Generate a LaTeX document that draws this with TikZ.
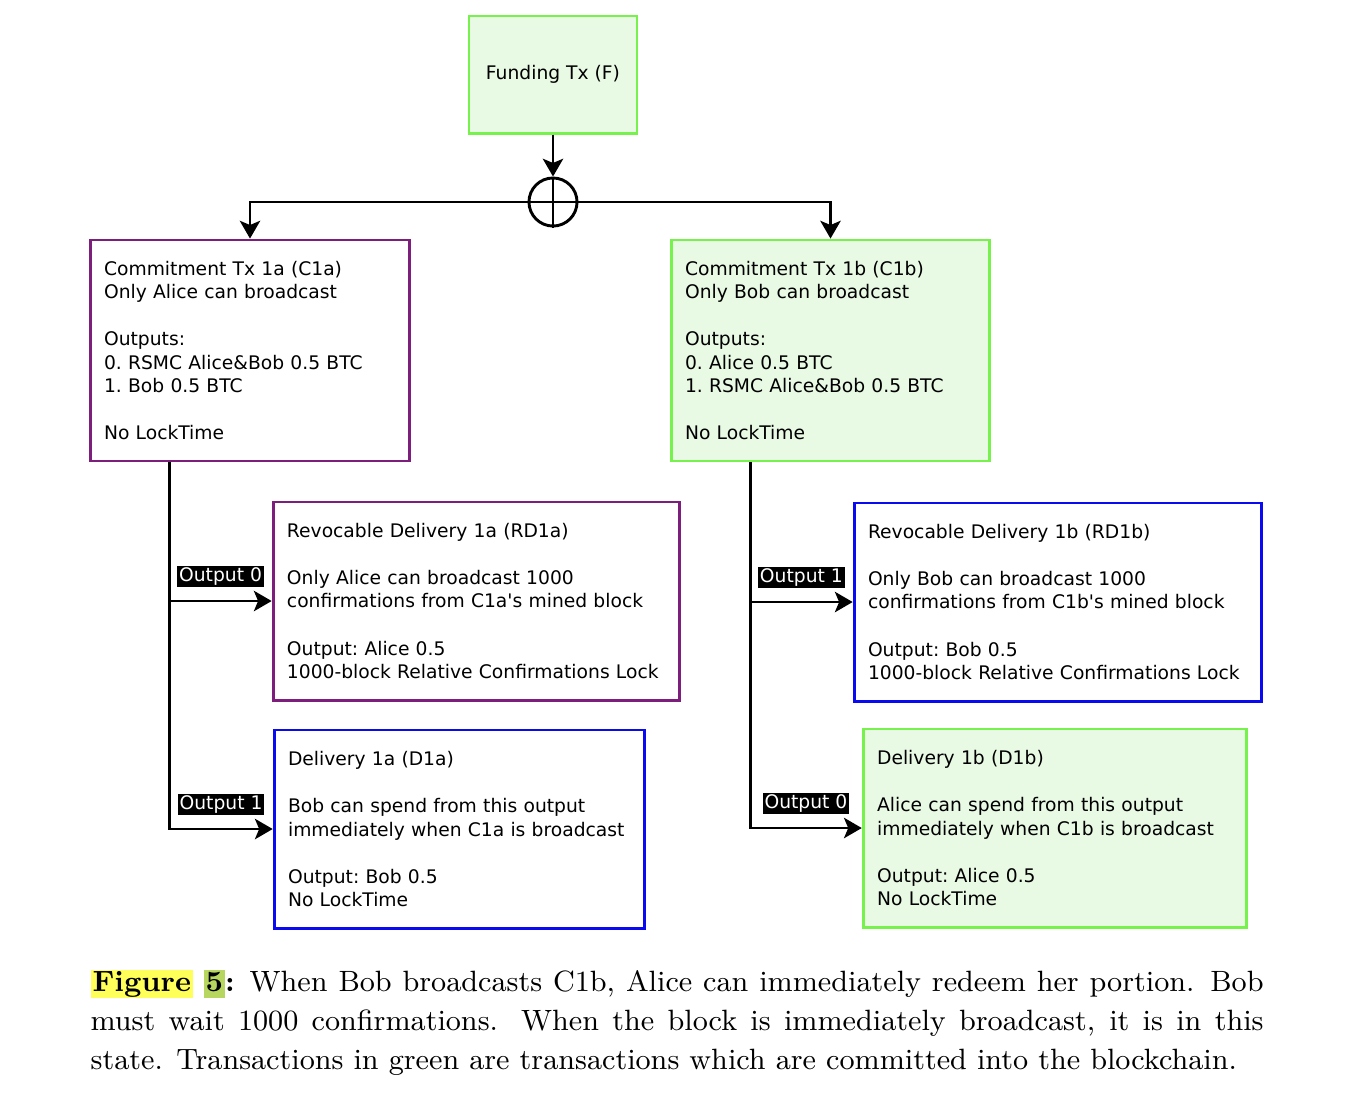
\documentclass[tikz,border=0pt]{standalone}
\usepackage{fontspec}
\newfontfamily\diafont{DejaVu Sans}
\usetikzlibrary{calc,arrows.meta,positioning}

\definecolor{txgreen}{RGB}{119,242,76}
\definecolor{txfill}{RGB}{232,249,228}
\definecolor{txpurple}{RGB}{125,30,125}
\definecolor{txblue}{RGB}{10,10,240}
\definecolor{hlyellow}{RGB}{255,255,90}
\definecolor{hlgreen}{RGB}{182,214,96}

\newcommand{\hlmark}[2]{\begingroup\setlength{\fboxsep}{0pt}\colorbox{#1}{\kern0.6pt\rule[-2.2pt]{0pt}{8.9pt}#2\kern0.6pt}\endgroup}

\tikzset{
  txbox/.style={draw,line width=0.9pt,align=left,inner xsep=4.3pt,inner ysep=0pt,
    font=\diafont\fontsize{5.8}{7.3}\selectfont\frenchspacing},
  committed/.style={txbox,draw=txgreen,fill=txfill},
  alicebox/.style={txbox,draw=txpurple},
  bobbox/.style={txbox,draw=txblue},
  conn/.style={line width=0.9pt,-{Stealth[length=5.5pt,width=6.3pt,inset=1.3pt]}},
  outlab/.style={fill=black,text=white,inner sep=0.6pt,above,yshift=3.8pt,
    font=\diafont\fontsize{5.8}{7.3}\selectfont},
}

\begin{document}
\begin{tikzpicture}[x=0.31pt,y=-0.31pt]
\useasboundingbox (0,0) rectangle (1368,1098);

% Nodes
\node[committed,align=center,minimum width=52.1pt,minimum height=36.3pt] (fund) at (553,74.5) {Funding Tx (F)};
\node[circle,draw,line width=0.9pt,minimum size=14.9pt,inner sep=0] (split) at (553,202) {};

\node[alicebox,text width=90.5pt,minimum height=68.5pt] (c1a) at (250,350.5)
  {Commitment Tx 1a (C1a)\\Only Alice can broadcast\\[7.3pt]Outputs:\\0. RSMC Alice\&Bob 0.5 BTC\\1. Bob 0.5 BTC\\[7.3pt]No LockTime};
\node[committed,text width=90.2pt,minimum height=68.5pt] (c1b) at (830.5,350.5)
  {Commitment Tx 1b (C1b)\\Only Bob can broadcast\\[7.3pt]Outputs:\\0. Alice 0.5 BTC\\1. RSMC Alice\&Bob 0.5 BTC\\[7.3pt]No LockTime};

\node[alicebox,text width=117.5pt,minimum height=61.4pt] (rd1a) at (476.5,601)
  {Revocable Delivery 1a (RD1a)\\[7.3pt]Only Alice can broadcast 1000\\confirmations from C1a's mined block\\[7.3pt]Output: Alice 0.5\\1000-block Relative Confirmations Lock};
\node[bobbox,text width=106.3pt,minimum height=61.4pt] (d1a) at (459.5,829)
  {Delivery 1a (D1a)\\[7.3pt]Bob can spend from this output\\immediately when C1a is broadcast\\[7.3pt]Output: Bob 0.5\\No LockTime};

\node[bobbox,text width=117.8pt,minimum height=61.4pt] (rd1b) at (1058,602)
  {Revocable Delivery 1b (RD1b)\\[7.3pt]Only Bob can broadcast 1000\\confirmations from C1b's mined block\\[7.3pt]Output: Bob 0.5\\1000-block Relative Confirmations Lock};
\node[committed,text width=110.3pt,minimum height=61.4pt] (d1b) at (1055,828)
  {Delivery 1b (D1b)\\[7.3pt]Alice can spend from this output\\immediately when C1b is broadcast\\[7.3pt]Output: Alice 0.5\\No LockTime};

% The split
\draw[conn] (fund.south) -- (split.north);
\draw[line width=0.9pt] (split.north) -- (split.south);
\draw[line width=0.9pt] (split.west) -- (split.east);
\draw[conn] (split.west) -| (c1a.north);
\draw[conn] (split.east) -| (c1b.north);

% Outputs of C1a
\draw[conn] ($(c1a.south west)!.25!(c1a.south east)$) |- node[outlab,pos=.75] {Output 0} (rd1a.west);
\draw[conn] ($(c1a.south west)!.25!(c1a.south east)$) |- node[outlab,pos=.75] {Output 1} (d1a.west);

% Outputs of C1b
\draw[conn] ($(c1b.south west)!.25!(c1b.south east)$) |- node[outlab,pos=.75] {Output 1} (rd1b.west);
\draw[conn] ($(c1b.south west)!.25!(c1b.south east)$) |- node[outlab,pos=.75] {Output 0} (d1b.west);

% Caption
\node[anchor=north west,inner sep=0,text width=363.6pt,align=justify,font=\fontsize{9.1}{12.1}\selectfont] (caption) at (90,969)
  {\hlmark{hlyellow}{\textbf{Figure}} \hlmark{hlgreen}{\textbf{5}}\textbf{:} When Bob broadcasts C1b, Alice can immediately redeem her portion. Bob must wait 1000 confirmations. When the block is immediately broadcast, it is in this state. Transactions in green are transactions which are committed into the blockchain.};

\end{tikzpicture}
\end{document}
